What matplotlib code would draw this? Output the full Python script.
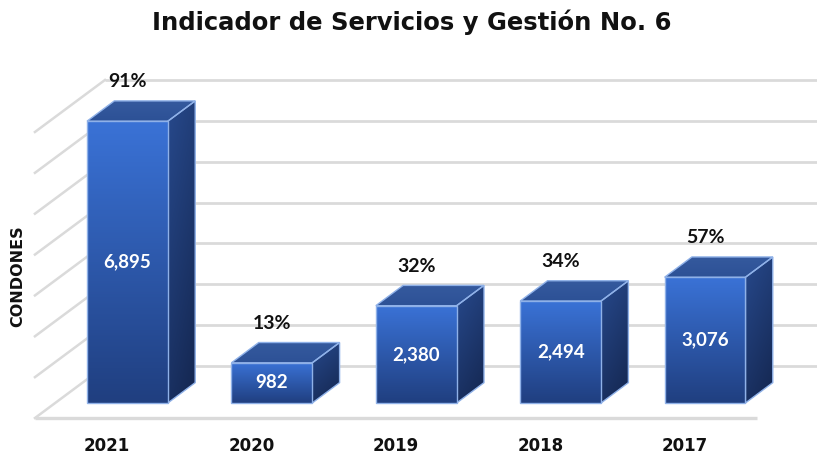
import numpy as np
import matplotlib.pyplot as plt
from matplotlib.patches import Polygon
from matplotlib.colors import LinearSegmentedColormap

plt.rcParams['font.family'] = ['Lato', 'DejaVu Sans']

#-----------------------------------------------------------------------------------------------------------------------
# Data
years = ['2021', '2020', '2019', '2018', '2017']
valores = [6895, 982, 2380, 2494, 3076]
porcentajes = ['91%', '13%', '32%', '34%', '57%']
y_ticks = np.arange(0, 8000, 1000)

#-----------------------------------------------------------------------------------------------------------------------
# 3D-like geometry (oblique projection in data units)
DX, DY = -0.485, -1273      # offset from back wall to front floor edge
D_FRONT, D_BACK = 0.71, 0.32  # depth fraction of bar front / back faces
W = 0.56                    # bar width in category units

grid_col = '#dadada'
edge_col = '#8fb1e8'


def gradient_fill(ax, verts, c_top, c_bot, z, tilt=0.0):
    poly = Polygon(verts, closed=True, facecolor='none', edgecolor=edge_col, lw=1.0, zorder=z + 0.1)
    ax.add_patch(poly)
    xs = [p[0] for p in verts]
    ys = [p[1] for p in verts]
    n = 64
    r = np.linspace(0, 1, n).reshape(-1, 1)
    c = np.linspace(1, 0, n).reshape(1, -1)
    grad = (1 - tilt) * r + tilt * c
    cmap = LinearSegmentedColormap.from_list('g', [c_bot, c_top])
    im = ax.imshow(grad, extent=[min(xs), max(xs), min(ys), max(ys)], origin='lower',
                   cmap=cmap, aspect='auto', zorder=z, interpolation='bilinear')
    im.set_clip_path(poly)


fig = plt.figure(figsize=(8.17, 4.55), dpi=100)
ax = fig.add_axes([0, 0, 1, 1])
ax.axis('off')

# back wall gridlines and side wall diagonals
for v in y_ticks:
    ax.plot([-0.5, 5.0], [v, v], color=grid_col, lw=2.0, zorder=1, solid_capstyle='butt')
    ax.plot([-0.5, -0.5 + DX], [v, v + DY], color=grid_col, lw=1.8, zorder=1)
# front floor edge
ax.plot([-0.5 + DX, 4.5 + DX], [DY, DY], color=grid_col, lw=2.4, zorder=1, solid_capstyle='butt')

# bars
for i, v in enumerate(valores):
    xl = i - W / 2 + D_FRONT * DX
    xr = xl + W
    yb = D_FRONT * DY
    yt = v + D_FRONT * DY
    bdx = (D_BACK - D_FRONT) * DX
    bdy = (D_BACK - D_FRONT) * DY
    front = [(xl, yb), (xr, yb), (xr, yt), (xl, yt)]
    top = [(xl, yt), (xr, yt), (xr + bdx, yt + bdy), (xl + bdx, yt + bdy)]
    side = [(xr, yb), (xr + bdx, yb + bdy), (xr + bdx, yt + bdy), (xr, yt)]
    gradient_fill(ax, side, '#27498c', '#14264f', 3, tilt=0.3)
    gradient_fill(ax, top, '#355a9e', '#2d5196', 3)
    gradient_fill(ax, front, '#3a72d6', '#203f80', 4)
    ax.text((xl + xr) / 2, (yb + yt) / 2, f'{v:,}', color='white', fontsize=13.5,
            fontweight='bold', ha='center', va='center', zorder=6)
    ax.text((xl + xr) / 2, yt + bdy + 340, porcentajes[i], color='#111111', fontsize=14,
            fontweight='bold', ha='center', va='baseline', zorder=6)
    ax.text(i + DX, -1958, years[i], color='#111111', fontsize=12, fontweight='bold',
            family='DejaVu Sans', ha='center', va='center', zorder=6)

ax.set_xlim(-1.227, 4.431)
ax.set_ylim(-2178, 8957)

fig.text(0.504, 1 - 22 / 455, 'Indicador de Servicios y Gestión No. 6', fontsize=17.5,
         fontweight='bold', family='DejaVu Sans', ha='center', va='center', color='#111111')
fig.text(18 / 817, 1 - 276 / 455, 'CONDONES', rotation=90, fontsize=11.5, fontweight='bold',
         family='DejaVu Sans', ha='center', va='center', color='#111111')

fig.savefig('out.png', dpi=100, facecolor='white')
